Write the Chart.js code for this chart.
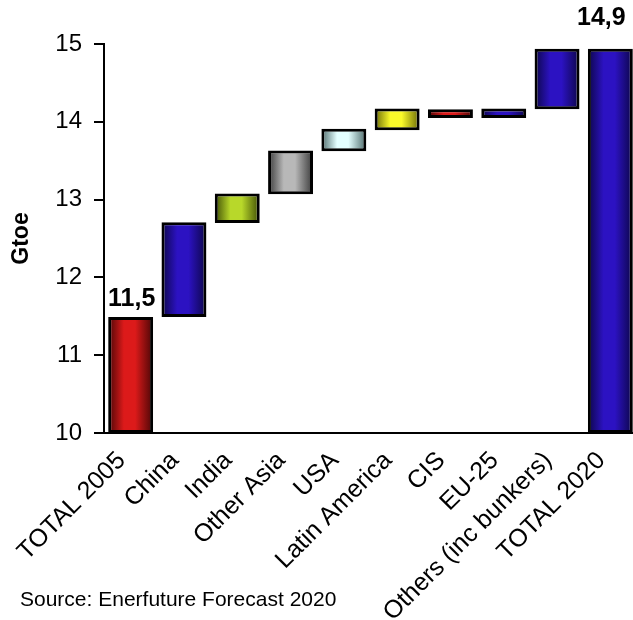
<!DOCTYPE html>
<html>
<head>
<meta charset="utf-8">
<script src="https://cdn.jsdelivr.net/npm/chart.js@4.4.1/dist/chart.umd.min.js"></script>
<style>
  html, body { margin: 0; padding: 0; background: #fff; overflow: hidden; }
  #wrap { width: 640px; height: 620px; position: relative; }
</style>
</head>
<body>
<div id="wrap"><canvas id="c"></canvas></div>
<script>
// ---- data ----
const categories = ['TOTAL 2005', 'China', 'India', 'Other Asia', 'USA', 'Latin America', 'CIS', 'EU-25', 'Others (inc bunkers)', 'TOTAL 2020'];
const barStart = [10.00, 11.49, 12.70, 13.07, 13.62, 13.89, 14.05, 14.05, 14.16, 10.00];
const barEnd   = [11.49, 12.71, 13.08, 13.63, 13.91, 14.17, 14.16, 14.17, 14.94, 14.94];
const yTicks = [10, 11, 12, 13, 14, 15];
const sourceText = 'Source: Enerfuture Forecast 2020';
const axisTitle = 'Gtoe';

// colour pairs: [edge, middle]
const palette = [
  ['#4a0606', '#dc1a1a'],
  ['#0c0648', '#2c12c2'],
  ['#3f4d05', '#b8d82a'],
  ['#3a3a3a', '#b8b8b8'],
  ['#4c6a6a', '#e4ffff'],
  ['#6a6a06', '#fafa2a'],
  ['#4a0606', '#dc1a1a'],
  ['#0c0648', '#2c12c2'],
  ['#0c0648', '#2c12c2'],
  ['#0c0648', '#2c12c2']
];

const floating = categories.map((c, i) => [barStart[i], barEnd[i]]);
const BAR_PCT = 0.843;

function gradFill(ctx) {
  const chart = ctx.chart;
  const i = ctx.dataIndex;
  const pair = palette[i] || palette[0];
  if (!chart.chartArea || i === undefined) return pair[1];
  const xs = chart.scales.x;
  const cx = xs.getPixelForValue(i);
  const w = (xs.width / categories.length) * BAR_PCT;
  const g = chart.ctx.createLinearGradient(cx - w / 2, 0, cx + w / 2, 0);
  g.addColorStop(0, pair[0]);
  g.addColorStop(0.35, pair[1]);
  g.addColorStop(0.6, pair[1]);
  g.addColorStop(1, pair[0]);
  return g;
}

const labelsPlugin = {
  id: 'totalsAndSource',
  afterDatasetsDraw(chart, args, opts) {
    const ctx = chart.ctx;
    const meta = chart.getDatasetMeta(0);
    const ymin = chart.scales.y.min;
    const shifts = opts.shifts || {};
    ctx.save();
    ctx.fillStyle = '#000';
    ctx.textAlign = 'center';
    ctx.textBaseline = 'alphabetic';
    ctx.font = 'bold 25px "Liberation Sans", Arial, sans-serif';
    meta.data.forEach((bar, i) => {
      if (barStart[i] === ymin) {
        const txt = barEnd[i].toFixed(1).replace('.', ',');
        const s = shifts[i] || [0, 12];
        ctx.fillText(txt, bar.x + s[0], bar.y - s[1]);
      }
    });
    ctx.textAlign = 'left';
    ctx.font = '21px "Liberation Sans", Arial, sans-serif';
    ctx.fillText(sourceText, 20, 606);
    ctx.restore();
  }
};

new Chart(document.getElementById('c'), {
  type: 'bar',
  data: {
    labels: categories,
    datasets: [{
      data: floating,
      backgroundColor: gradFill,
      borderColor: '#000',
      borderWidth: 3,
      borderSkipped: false,
      barPercentage: BAR_PCT,
      categoryPercentage: 1.0
    }]
  },
  options: {
    responsive: true,
    maintainAspectRatio: false,
    animation: false,
    layout: { padding: { top: 44, right: 3, bottom: 0, left: 0 } },
    plugins: {
      legend: { display: false },
      tooltip: { enabled: false },
      totalsAndSource: { shifts: { 0: [1, 11], 9: [-9, 24] } }
    },
    scales: {
      x: {
        grid: { display: false, drawTicks: false },
        border: { display: true, color: '#000', width: 2 },
        ticks: {
          color: '#000',
          maxRotation: 45, minRotation: 45,
          autoSkip: false,
          padding: 13,
          labelOffset: -9,
          font: { family: '"Liberation Sans", Arial, sans-serif', size: 25 }
        },
        afterFit(s) { s.height = 187; s.paddingRight = 0; s.paddingLeft = 0; }
      },
      y: {
        min: 10, max: 15,
        afterBuildTicks(s) { s.ticks = yTicks.map(v => ({ value: v })); },
        grid: { display: true, drawOnChartArea: false, drawTicks: true, tickLength: 10, color: '#000', lineWidth: 2 },
        border: { display: true, color: '#000', width: 2 },
        ticks: {
          color: '#000',
          padding: 12,
          font: { family: '"Liberation Sans", Arial, sans-serif', size: 24 }
        },
        title: {
          display: true,
          text: axisTitle,
          color: '#000',
          padding: { top: 8, bottom: 0 },
          font: { family: '"Liberation Sans", Arial, sans-serif', size: 23, weight: 'bold' }
        },
        afterFit(s) { s.width = 104; }
      }
    }
  },
  plugins: [labelsPlugin]
});
</script>
</body>
</html>
